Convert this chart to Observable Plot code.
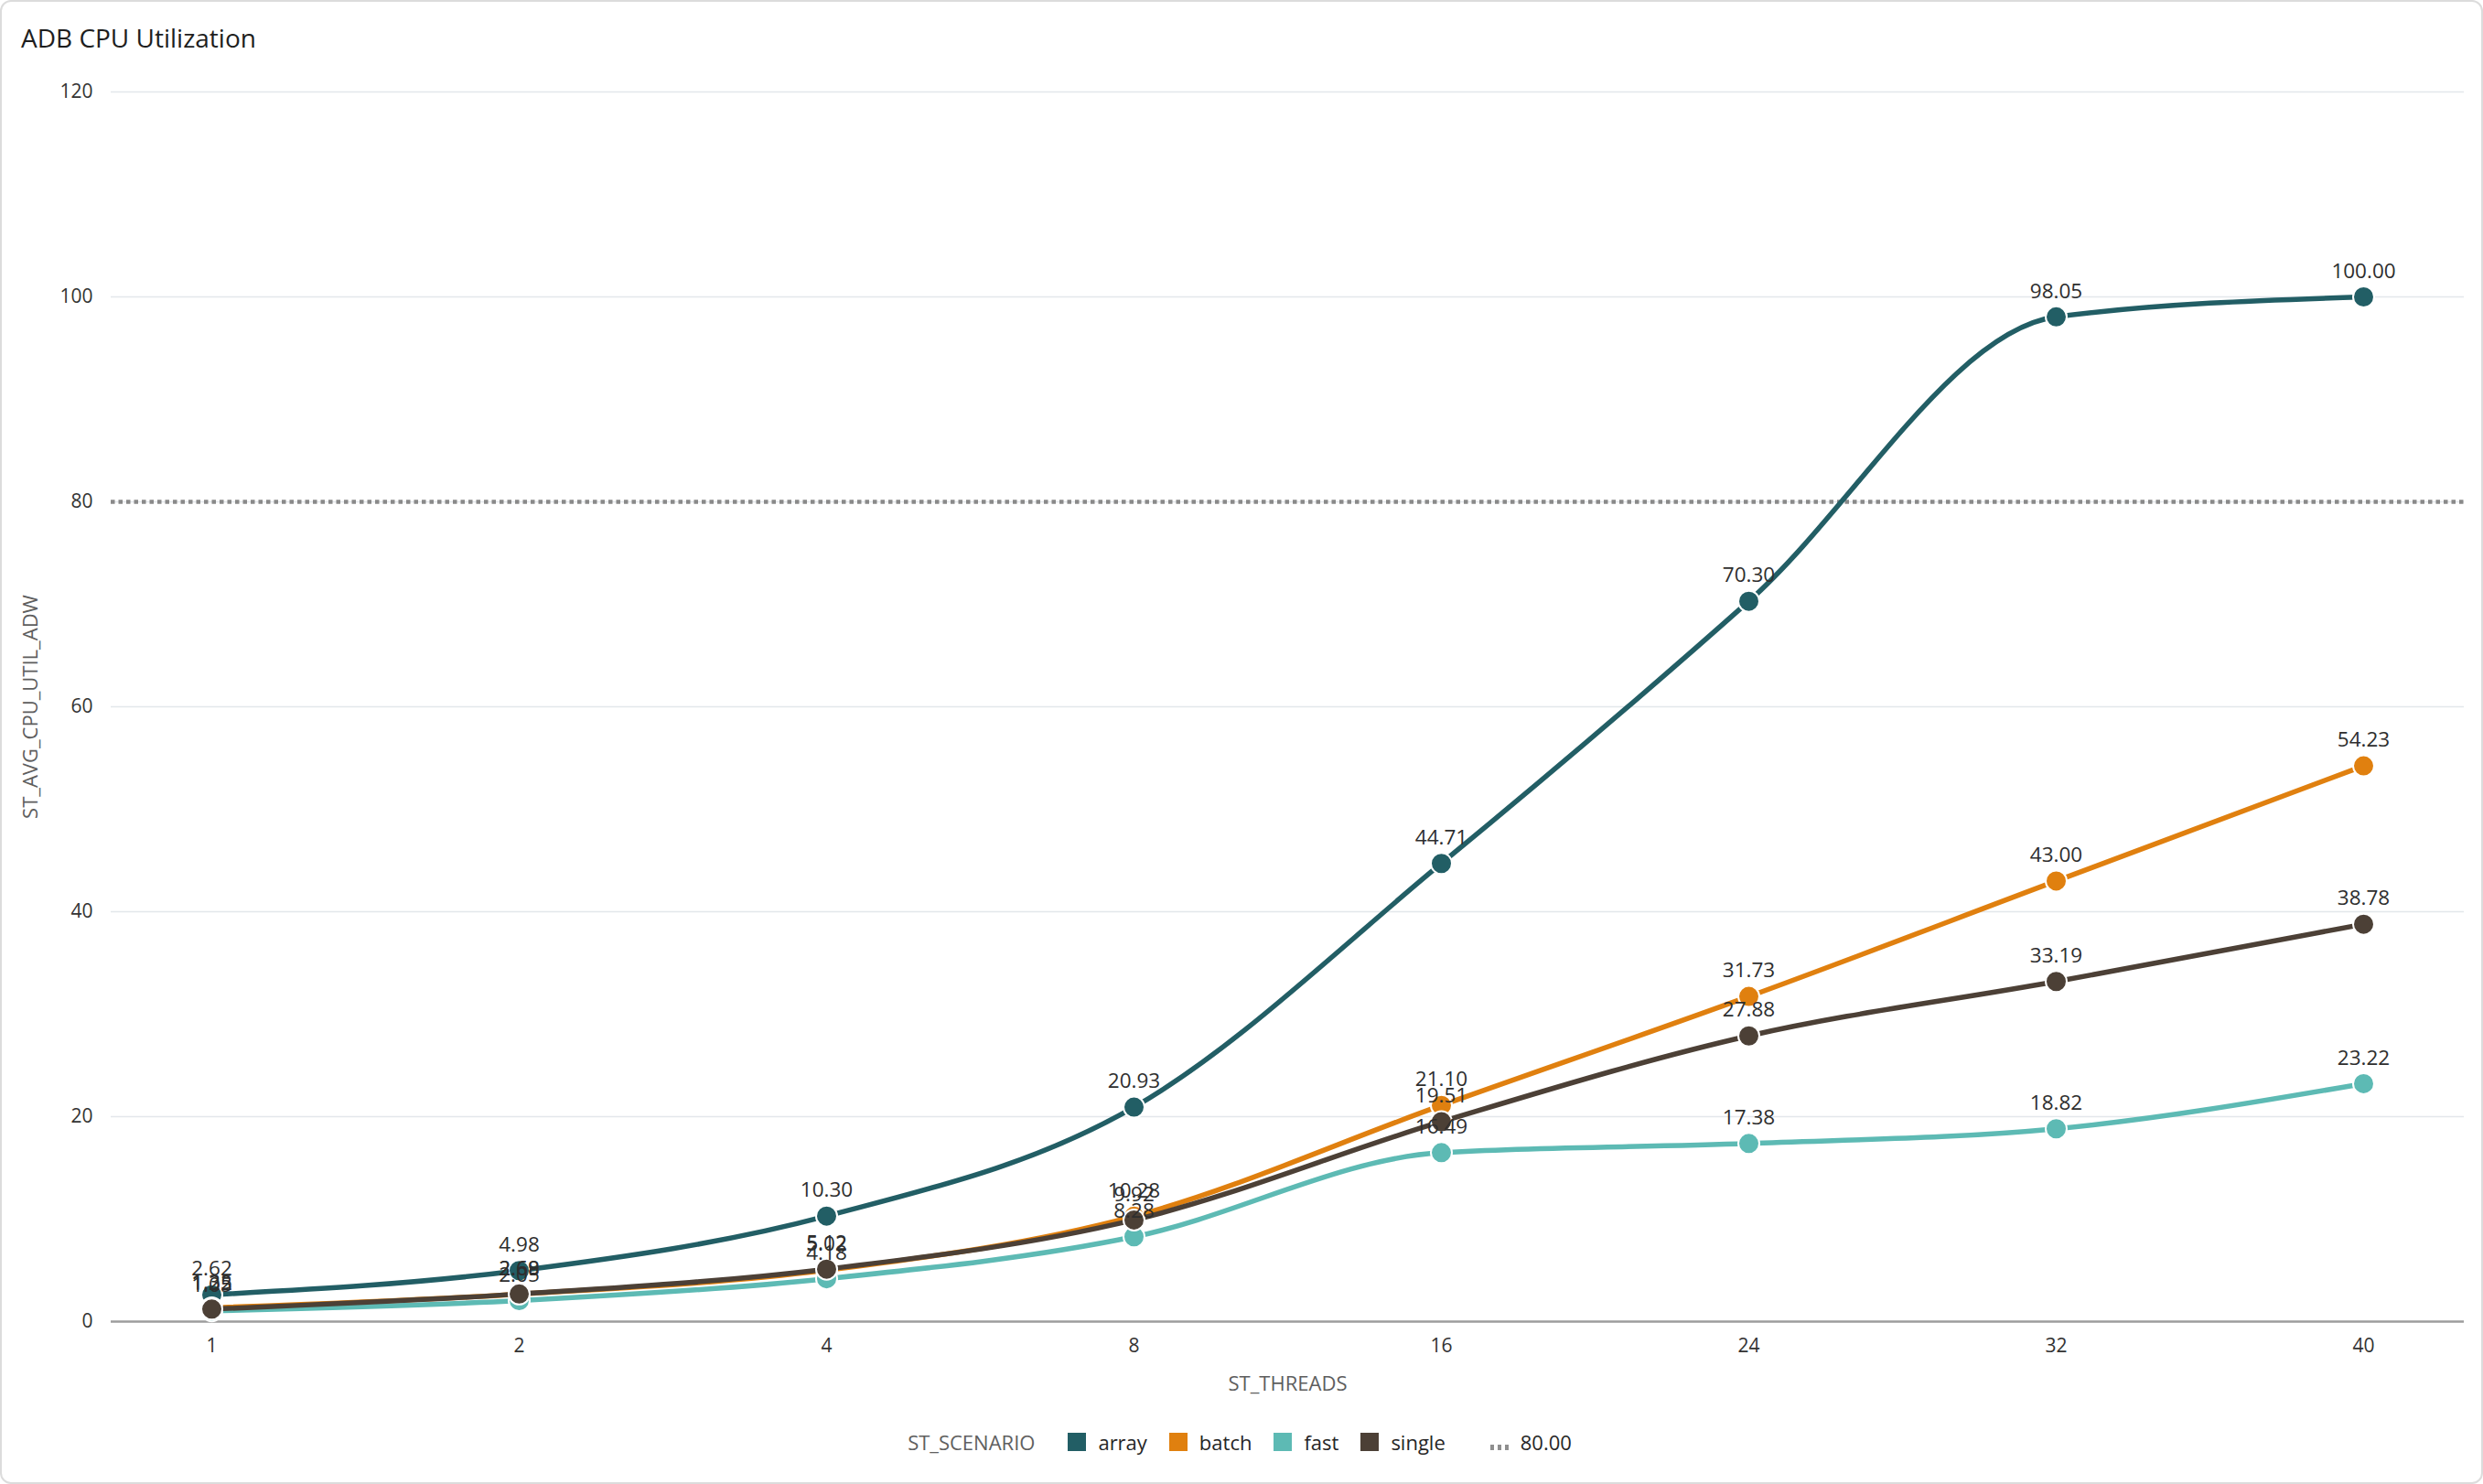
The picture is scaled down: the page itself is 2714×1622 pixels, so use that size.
<!DOCTYPE html>
<html>
<head>
<meta charset="utf-8">
<script src="https://cdn.jsdelivr.net/npm/d3@7"></script>
<script src="https://cdn.jsdelivr.net/npm/@observablehq/plot@0.6"></script>
<style>
  html, body { margin: 0; padding: 0; background: #fff; }
  #card { position: relative; width: 2714px; height: 1622px; overflow: hidden; font-family: "Open Sans", Lato, sans-serif; }
  #border { position: absolute; left: 0; top: 0; width: 2714px; height: 1622px; box-sizing: border-box; border: 2px solid #dcdcdc; border-radius: 12px; pointer-events: none; }
  #title { position: absolute; left: 23px; top: 22px; font-size: 28px; color: #1e1e1e; }
  #chart { position: absolute; left: 0; top: 0; }
  #legend { position: absolute; left: 10px; width: 2714px; top: 1561px; display: flex; justify-content: center; align-items: center; font-size: 22px; color: #262626; }
  #legend .ttl { color: #606060; margin-right: 36px; }
  #legend .sw { width: 20px; height: 20px; display: inline-block; margin-right: 13px; }
  #legend .it { display: flex; align-items: center; margin-right: 24px; }
</style>
</head>
<body>
<div id="card">
  <div id="chart"></div>
  <div id="title">ADB CPU Utilization</div>
  <div id="legend"></div>
  <div id="border"></div>
</div>
<script>
const threads = ["1", "2", "4", "8", "16", "24", "32", "40"];
const scenarios = ["array", "batch", "fast", "single"];
const colors = ["#225E65", "#E0800F", "#5DBAB4", "#4C4036"];
const arrayVals  = [2.62, 4.98, 10.30, 20.93, 44.71, 70.30, 98.05, 100.00];
const batchVals  = [1.35, 2.68, 5.02, 10.28, 21.10, 31.73, 43.00, 54.23];
const fastVals   = [1.05, 2.05, 4.18, 8.28, 16.49, 17.38, 18.82, 23.22];
const singleVals = [1.22, 2.69, 5.12, 9.92, 19.51, 27.88, 33.19, 38.78];
const refValue = 80;
const yTicks = [0, 20, 40, 60, 80, 100, 120];
const xLabel = "ST_THREADS";
const yLabel = "ST_AVG_CPU_UTIL_ADW";
const legendTitle = "ST_SCENARIO";

const seriesVals = {array: arrayVals, batch: batchVals, fast: fastVals, single: singleVals};
const rows = [];
for (const s of scenarios) {
  threads.forEach((t, i) => rows.push({scenario: s, threads: t, value: seriesVals[s][i]}));
}

const perSeries = [];
for (const s of scenarios) {
  const d = rows.filter(r => r.scenario === s);
  perSeries.push(Plot.line(d, {x: "threads", y: "value", stroke: "scenario", strokeWidth: 5.5, curve: "monotone-x"}));
  perSeries.push(Plot.dot(d, {x: "threads", y: "value", fill: "scenario", stroke: "white", strokeWidth: 2, r: 11.5}));
}

const chart = Plot.plot({
  width: 2714,
  height: 1540,
  marginTop: 100,
  marginBottom: 96,
  marginLeft: 121,
  marginRight: 21,
  style: {fontFamily: '"Open Sans", Lato, sans-serif', fontSize: "21px", color: "#333", background: "transparent"},
  x: {type: "point", domain: threads, padding: 0.32},
  y: {domain: [0, 120]},
  color: {domain: scenarios, range: colors},
  marks: [
    Plot.gridY(yTicks.filter(t => t > 0), {stroke: "#e3e7eb", strokeOpacity: 1, strokeWidth: 1.5}),
    Plot.axisY(yTicks, {tickSize: 0, tickPadding: 20, label: null, fontSize: 21}),
    Plot.axisX({tickSize: 0, tickPadding: 19, label: null, fontSize: 21}),
    Plot.ruleY([0], {stroke: "#9d9d9d", strokeWidth: 2.5}),
    Plot.ruleY([refValue], {stroke: "#8a8a8a", strokeWidth: 4.5, strokeDasharray: "4.5,4"}),
    ...perSeries,
    Plot.text(rows, {x: "threads", y: "value", text: d => d.value.toFixed(2), dy: -28, fontSize: 22.5, fill: "#2e2e2e"}),
    Plot.text([xLabel], {frameAnchor: "bottom", dy: 75, fontSize: 22, fill: "#5e5e5e"}),
    Plot.text([yLabel], {frameAnchor: "left", textAnchor: "middle", dx: -88, rotate: -90, fontSize: 22, fill: "#5e5e5e"})
  ]
});
document.getElementById("chart").appendChild(chart);

const legend = document.getElementById("legend");
const t = document.createElement("span");
t.className = "ttl"; t.textContent = legendTitle;
legend.appendChild(t);
scenarios.forEach((s, i) => {
  const it = document.createElement("span");
  it.className = "it";
  const sw = document.createElement("span");
  sw.className = "sw"; sw.style.background = colors[i];
  const lb = document.createElement("span");
  lb.textContent = s;
  it.appendChild(sw); it.appendChild(lb);
  legend.appendChild(it);
});
const ref = document.createElement("span");
ref.className = "it";
ref.style.marginLeft = "24px";
ref.innerHTML = '<svg width="22" height="20" style="margin-right:12px"><line x1="1" x2="21" y1="16" y2="16" stroke="#8f8f8f" stroke-width="6" stroke-dasharray="4,4"/></svg>';
const rl = document.createElement("span");
rl.textContent = refValue.toFixed(2);
ref.appendChild(rl);
legend.appendChild(ref);
</script>
</body>
</html>
